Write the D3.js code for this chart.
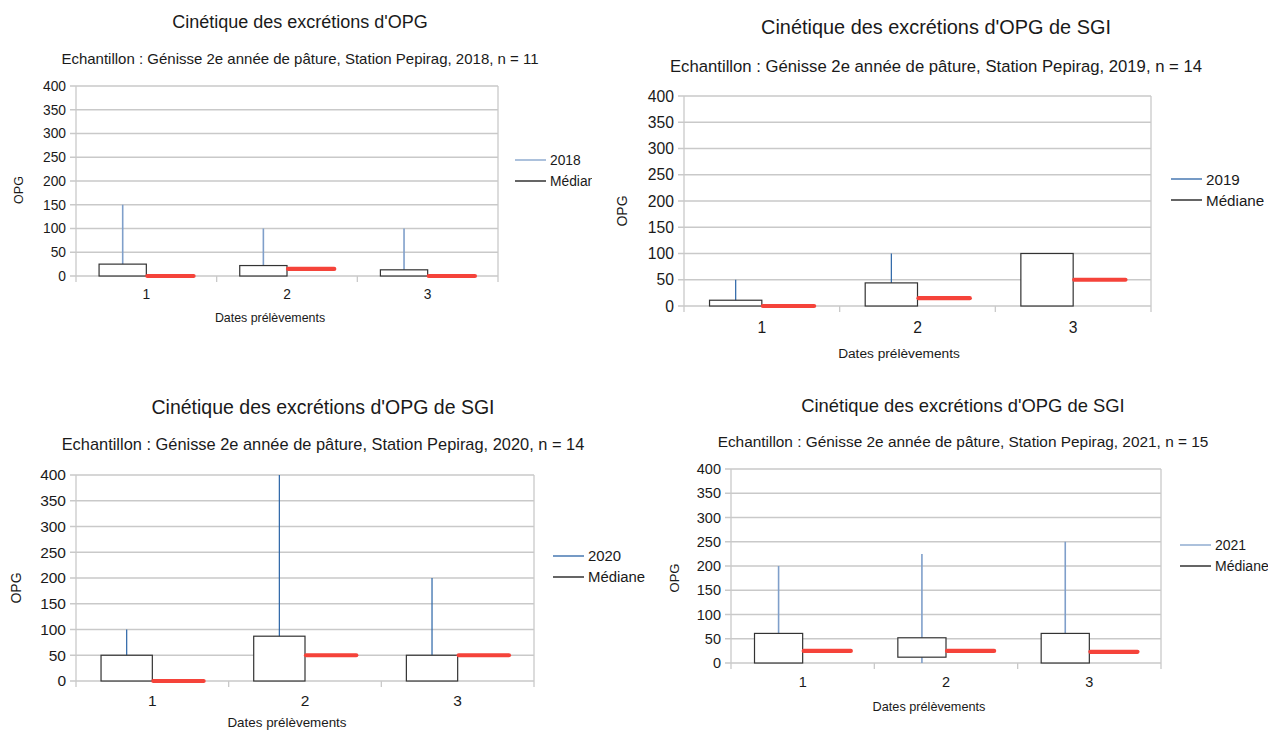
<!DOCTYPE html>
<html><head><meta charset="utf-8">
<script src="https://cdn.jsdelivr.net/npm/d3@7"></script>
<style>
html,body{margin:0;padding:0;background:#fff;}
svg{display:block;font-family:"Liberation Sans",Arial,sans-serif;}
</style></head>
<body><svg id="c" width="1268" height="731"></svg>
<script>
// ---------- data ----------
const categories = ["1", "2", "3"];
const yTicks = [0, 50, 100, 150, 200, 250, 300, 350, 400];
const years = ["2018", "2019", "2020", "2021"];
const titles = [
  "Cinétique des excrétions d'OPG",
  "Cinétique des excrétions d'OPG de SGI",
  "Cinétique des excrétions d'OPG de SGI",
  "Cinétique des excrétions d'OPG de SGI"
];
const subtitles = [
  "Echantillon : Génisse 2e année de pâture, Station Pepirag, 2018, n = 11",
  "Echantillon : Génisse 2e année de pâture, Station Pepirag, 2019, n = 14",
  "Echantillon : Génisse 2e année de pâture, Station Pepirag, 2020, n = 14",
  "Echantillon : Génisse 2e année de pâture, Station Pepirag, 2021, n = 15"
];
const xTitle = "Dates prélèvements";
const yTitle = "OPG";
const medianLabel = "Médiane";

// candlestick series: low, box bottom, box top, high ; plus median
const low2018 = [0, 0, 0];
const boxLow2018 = [0, 0, 0];
const boxHigh2018 = [25, 22, 13];
const high2018 = [150, 100, 100];
const median2018 = [0, 15, 0];

const low2019 = [0, 0, 0];
const boxLow2019 = [0, 0, 0];
const boxHigh2019 = [11, 44, 100];
const high2019 = [50, 100, 100];
const median2019 = [0, 15, 50];

const low2020 = [0, 0, 0];
const boxLow2020 = [0, 0, 0];
const boxHigh2020 = [50, 87, 50];
const high2020 = [100, 400, 200];
const median2020 = [0, 50, 50];

const low2021 = [0, 0, 0];
const boxLow2021 = [0, 12, 0];
const boxHigh2021 = [61, 52, 61];
const high2021 = [200, 225, 250];
const median2021 = [25, 25, 23];

const series = [
  {low: low2018, boxLow: boxLow2018, boxHigh: boxHigh2018, high: high2018, median: median2018},
  {low: low2019, boxLow: boxLow2019, boxHigh: boxHigh2019, high: high2019, median: median2019},
  {low: low2020, boxLow: boxLow2020, boxHigh: boxHigh2020, high: high2020, median: median2020},
  {low: low2021, boxLow: boxLow2021, boxHigh: boxHigh2021, high: high2021, median: median2021}
];

// ---------- layout (positions / styles) ----------
const layouts = [
  {clip: [0, 0, 592, 380], x0: 76, x1: 498, y0: 86, y1: 276, titleX: 300, titleY: 22, subY: 58,
   fsTitle: 18, fsSub: 15, fsTick: 13.8, fsX: 12.4, fsLeg: 13.8, fsY: 12.5,
   catY: 294, xtX: 270, xtY: 318, ytX: 19, ytY: 190, legX: 515, legY: 160, whisk: "#7f9fca", whW: 1.6},
  {clip: [600, 0, 668, 380], x0: 684, x1: 1151, y0: 96, y1: 306, titleX: 936, titleY: 27, subY: 66,
   fsTitle: 19.9, fsSub: 16.7, fsTick: 15.7, fsX: 13.7, fsLeg: 15.2, fsY: 14,
   catY: 327, xtX: 899, xtY: 353, ytX: 622, ytY: 211, legX: 1171, legY: 179, whisk: "#2a64a6", whW: 1.2},
  {clip: [0, 380, 648, 351], x0: 76, x1: 534, y0: 475, y1: 681, titleX: 323, titleY: 407, subY: 444,
   fsTitle: 19.5, fsSub: 16.4, fsTick: 15.5, fsX: 13.4, fsLeg: 14.9, fsY: 14,
   catY: 700, xtX: 287, xtY: 722, ytX: 16, ytY: 588, legX: 553, legY: 556, whisk: "#2a64a6", whW: 1.2},
  {clip: [655, 380, 613, 351], x0: 731, x1: 1161, y0: 469, y1: 663, titleX: 963, titleY: 405, subY: 441,
   fsTitle: 18.4, fsSub: 15.4, fsTick: 14.5, fsX: 12.7, fsLeg: 14, fsY: 13,
   catY: 682, xtX: 929, xtY: 707, ytX: 674, ytY: 578, legX: 1180, legY: 545, whisk: "#7f9fca", whW: 1.6}
];

const svg = d3.select("#c");
const textCol = "#1a1a1a";
const gridCol = "#c9c9c9";
const medianCol = "#f5433a";

layouts.forEach((L, i) => {
  const S = series[i];
  const cid = "clip" + i;
  svg.append("clipPath").attr("id", cid).append("rect")
    .attr("x", L.clip[0]).attr("y", L.clip[1]).attr("width", L.clip[2]).attr("height", L.clip[3]);
  const g = svg.append("g").attr("clip-path", `url(#${cid})`);

  const x = d3.scaleBand().domain(categories).range([L.x0, L.x1]).padding(0);
  const y = d3.scaleLinear().domain([0, 400]).range([L.y1, L.y0]);
  const bw = x.bandwidth();

  // titles
  g.append("text").attr("x", L.titleX).attr("y", L.titleY).attr("text-anchor", "middle")
    .attr("dominant-baseline", "central").attr("font-size", L.fsTitle).attr("fill", textCol).text(titles[i]);
  g.append("text").attr("x", L.titleX).attr("y", L.subY).attr("text-anchor", "middle")
    .attr("dominant-baseline", "central").attr("font-size", L.fsSub).attr("fill", textCol).text(subtitles[i]);

  // gridlines
  g.append("g").selectAll("line").data(yTicks).join("line")
    .attr("x1", L.x0 - 6).attr("x2", L.x1)
    .attr("y1", d => y(d)).attr("y2", d => y(d))
    .attr("stroke", gridCol).attr("stroke-width", 1.3);

  // vertical frame lines and category ticks
  const vx = [L.x0, ...categories.slice(1).map(c => x(c)), L.x1];
  g.append("line").attr("x1", L.x0).attr("x2", L.x0).attr("y1", L.y0).attr("y2", L.y1 + 6)
    .attr("stroke", gridCol).attr("stroke-width", 1.3);
  g.append("line").attr("x1", L.x1).attr("x2", L.x1).attr("y1", L.y0).attr("y2", L.y1 + 6)
    .attr("stroke", gridCol).attr("stroke-width", 1.3);
  g.append("g").selectAll("line").data(vx.slice(1, -1)).join("line")
    .attr("x1", d => d).attr("x2", d => d).attr("y1", L.y1).attr("y2", L.y1 + 6)
    .attr("stroke", gridCol).attr("stroke-width", 1.3);

  // y axis labels
  const ya = g.append("g").attr("transform", `translate(${L.x0},0)`)
    .call(d3.axisLeft(y).tickValues(yTicks).tickSize(0).tickPadding(10));
  ya.select(".domain").remove();
  ya.selectAll("text").attr("font-size", L.fsTick).attr("fill", textCol)
    .attr("font-family", "Liberation Sans, Arial, sans-serif");

  // x axis labels
  const xa = g.append("g").attr("transform", `translate(0,${L.catY})`)
    .call(d3.axisBottom(x).tickSize(0).tickPadding(0));
  xa.select(".domain").remove();
  xa.selectAll("text").attr("font-size", L.fsTick).attr("fill", textCol).attr("dy", null)
    .attr("dominant-baseline", "central").attr("font-family", "Liberation Sans, Arial, sans-serif");

  // axis titles
  g.append("text").attr("x", L.xtX).attr("y", L.xtY).attr("text-anchor", "middle")
    .attr("dominant-baseline", "central").attr("font-size", L.fsX).attr("fill", textCol).text(xTitle);
  g.append("text").attr("transform", `translate(${L.ytX},${L.ytY}) rotate(-90)`).attr("text-anchor", "middle")
    .attr("dominant-baseline", "central").attr("font-size", L.fsY).attr("fill", textCol).text(yTitle);

  const idx = categories.map((c, k) => k);

  // whiskers (low -> high)
  g.append("g").selectAll("line").data(idx).join("line")
    .attr("x1", k => x(categories[k]) + bw * 0.332).attr("x2", k => x(categories[k]) + bw * 0.332)
    .attr("y1", k => y(S.low[k])).attr("y2", k => y(S.high[k]))
    .attr("stroke", L.whisk).attr("stroke-width", L.whW);

  // boxes
  g.append("g").selectAll("rect").data(idx).join("rect")
    .attr("x", k => x(categories[k]) + bw * 0.164)
    .attr("width", bw * 0.336)
    .attr("y", k => y(S.boxHigh[k]))
    .attr("height", k => y(S.boxLow[k]) - y(S.boxHigh[k]))
    .attr("fill", "#fff").attr("stroke", "#333").attr("stroke-width", 1.2);

  // medians
  g.append("g").selectAll("line").data(idx).join("line")
    .attr("x1", k => x(categories[k]) + bw * 0.5 + 1).attr("x2", k => x(categories[k]) + bw * 0.836)
    .attr("y1", k => y(S.median[k])).attr("y2", k => y(S.median[k]))
    .attr("stroke", medianCol).attr("stroke-width", 4.2).attr("stroke-linecap", "round");

  // legend
  const leg = g.append("g");
  const legItems = [{label: years[i], col: L.whisk}, {label: medianLabel, col: "#111"}];
  const lh = L.legY;
  leg.selectAll("line").data(legItems).join("line")
    .attr("x1", L.legX).attr("x2", L.legX + 31)
    .attr("y1", (d, j) => lh + j * 21).attr("y2", (d, j) => lh + j * 21)
    .attr("stroke", d => d.col).attr("stroke-width", 1.3);
  leg.selectAll("text").data(legItems).join("text")
    .attr("x", L.legX + 35).attr("y", (d, j) => lh + j * 21)
    .attr("dominant-baseline", "central").attr("font-size", L.fsLeg).attr("fill", textCol)
    .text(d => d.label);
});
</script>
</body></html>
